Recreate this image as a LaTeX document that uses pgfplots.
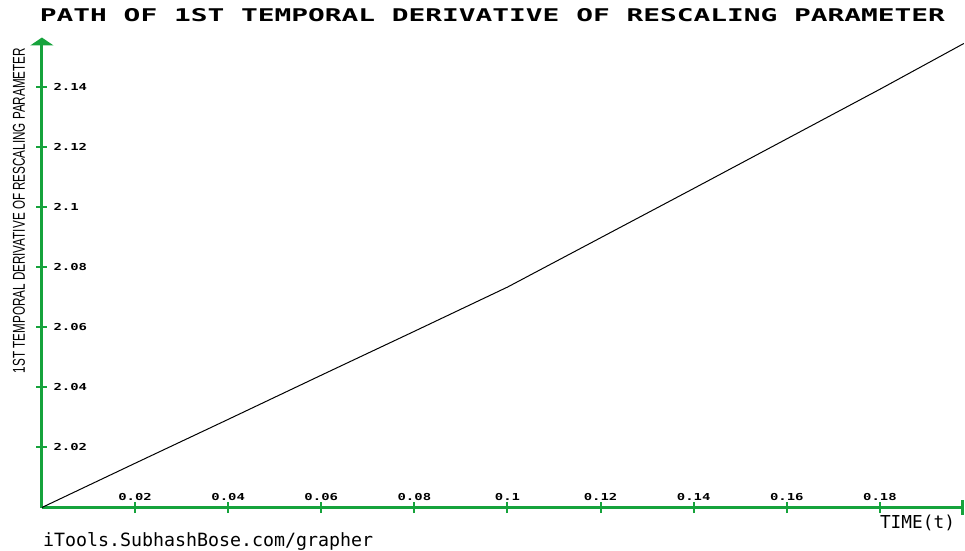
\documentclass[border=0pt]{standalone}
\usepackage{pgfplots}
\pgfplotsset{compat=1.18}
\usepackage{fontspec}
\usepackage{graphicx}
\usetikzlibrary{arrows.meta}
\newfontfamily\mono{DejaVu Sans Mono}
\newfontfamily\narrow{Liberation Sans}
\definecolor{axgreen}{RGB}{22,163,60}
\newcommand\tk[1]{\scalebox{1.45}[1]{\fontsize{9.6}{10}\selectfont\mono\bfseries #1}}

\begin{document}
\begin{tikzpicture}
\path[use as bounding box] (0,0) rectangle (965pt,550pt);
\begin{axis}[
  at={(41.9pt,42.5pt)}, anchor=south west,
  scale only axis, width=922pt, height=470pt,
  xmin=0, xmax=0.19803, ymin=2, ymax=2.1563,
  axis x line*=bottom, axis y line*=left,
  axis line style={axgreen, line width=3pt},
  x axis line style={-{Bar[width=15pt,line width=2.5pt]}},
  y axis line style={-{Triangle[width=23pt,length=8pt]}},
  tick align=center, major tick length=11pt,
  tick style={axgreen, line width=2pt},
  xtick={0.02,0.04,0.06,0.08,0.1,0.12,0.14,0.16,0.18},
  xticklabels={\tk{0.02},\tk{0.04},\tk{0.06},\tk{0.08},\tk{0.1},\tk{0.12},\tk{0.14},\tk{0.16},\tk{0.18}},
  ytick={2.02,2.04,2.06,2.08,2.1,2.12,2.14},
  yticklabels={\tk{2.02},\tk{2.04},\tk{2.06},\tk{2.08},\tk{2.1},\tk{2.12},\tk{2.14}},
  xticklabel style={anchor=south, inner sep=0pt, yshift=12.5pt},
  yticklabel style={anchor=west, inner sep=0pt, xshift=17pt},
  clip=false,
]
\addplot[black, line width=1pt] coordinates {
  (0,2.0000) (0.02,2.0147) (0.04,2.0293) (0.06,2.0440) (0.08,2.0586)
  (0.10,2.0733) (0.12,2.0897) (0.14,2.1061) (0.16,2.1226) (0.18,2.1391)
  (0.198,2.1543)
};
\end{axis}
% titles and captions
\node at (492.5pt,535pt) {\resizebox{905pt}{13pt}{\mono\bfseries PATH OF 1ST TEMPORAL DERIVATIVE OF RESCALING PARAMETER}};
\node[rotate=90] at (19pt,339.5pt) {\resizebox{325pt}{12pt}{\narrow 1ST TEMPORAL DERIVATIVE OF RESCALING PARAMETER}};
\node at (917.5pt,27pt) {\resizebox{75pt}{!}{\mono TIME(t)}};
\node[anchor=base west, inner sep=0pt] at (43pt,4pt) {\resizebox{330pt}{!}{\mono iTools.SubhashBose.com/grapher}};
\end{tikzpicture}
\end{document}
